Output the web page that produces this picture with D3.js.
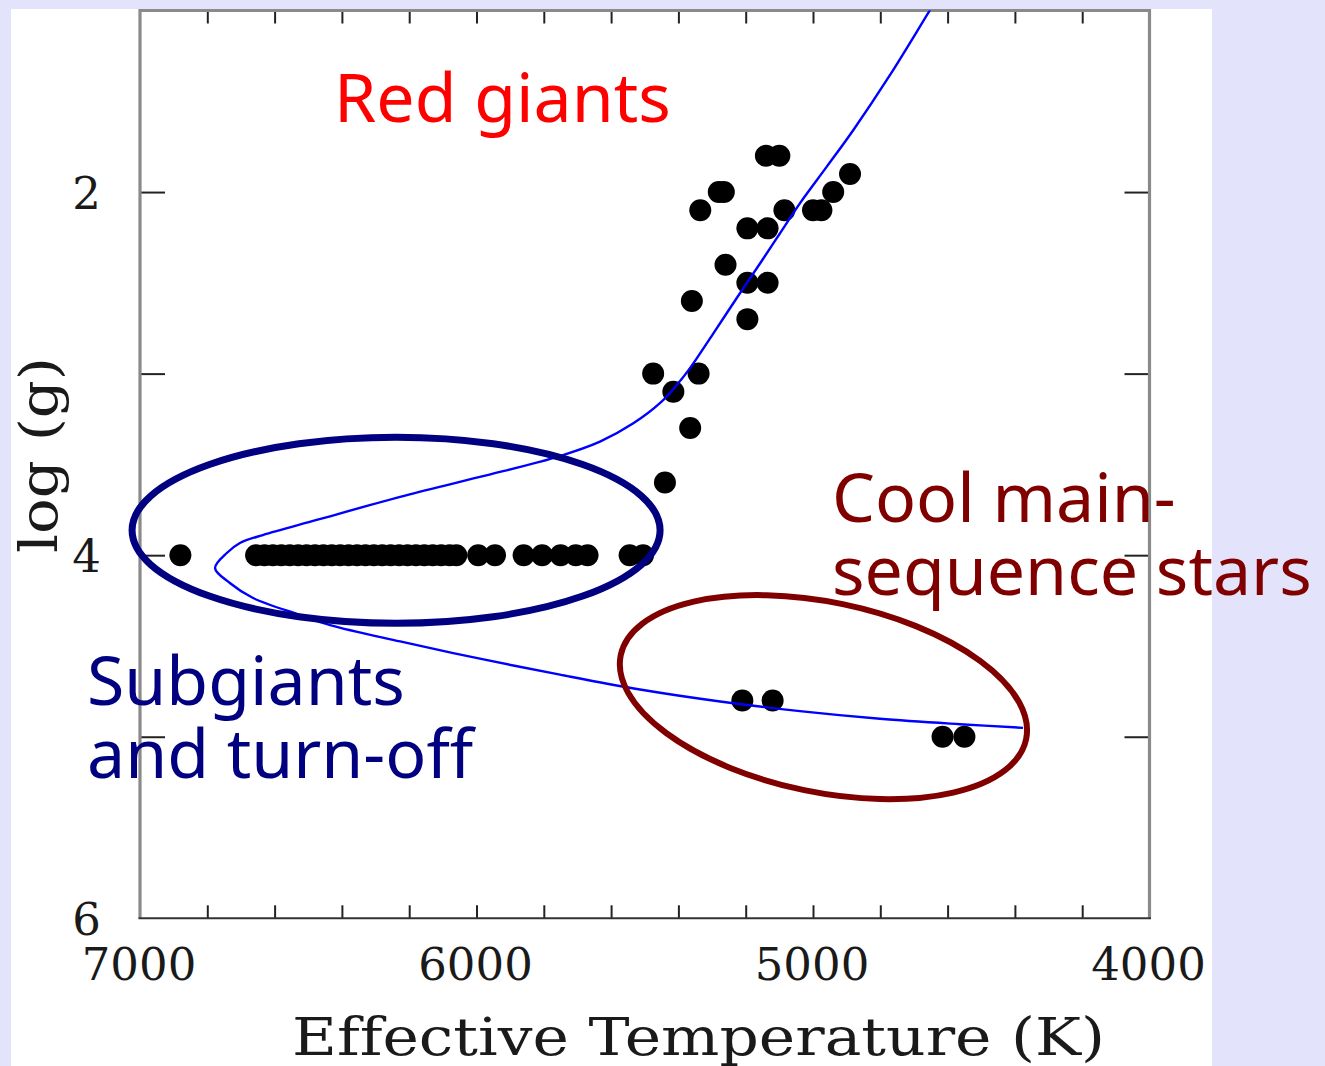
<!DOCTYPE html>
<html>
<head>
<meta charset="utf-8">
<script src="https://cdn.jsdelivr.net/npm/d3@7/dist/d3.min.js"></script>
<style>
  html, body { margin: 0; padding: 0; background: #e3e3fb; }
  svg { display: block; }
  text { font-variant-ligatures: none; font-feature-settings: "liga" 0; }
</style>
</head>
<body>
<svg id="chart" width="1325" height="1066"></svg>
<script>
// Effective temperature ticks (K) and surface gravity ticks
const tempLabels = [7000, 6000, 5000, 4000];
const tempTicks = [6800, 6600, 6400, 6200, 6000, 5800, 5600, 5400, 5200, 5000, 4800, 4600, 4400, 4200];
const loggTicks = [2, 3, 4, 5];
const loggLabels = [2, 4, 6];

// Subgiants and turn-off stars, all at log g = 4.0
const subgiantTeff = [
  6880,
  6655, 6630, 6605, 6580, 6555, 6530, 6505, 6480, 6455, 6430, 6405, 6380,
  6355, 6330, 6305, 6280, 6255, 6230, 6205, 6180, 6155, 6130, 6105, 6080,
  6060, 5995, 5945,
  5860, 5805, 5750, 5705, 5670,
  5545, 5505
];
const subgiantLogg = subgiantTeff.map(() => 4.0);

// Red giant branch stars
const giantTeff = [5140, 5100, 4890, 4940, 5280, 5265, 5335, 5085, 5000, 4975, 5195, 5135, 5260,
                   5195, 5135, 5360, 5195, 5475, 5340, 5415, 5365, 5440];
const giantLogg = [1.8, 1.8, 1.9, 2.0, 2.0, 2.0, 2.1, 2.1, 2.1, 2.1, 2.2, 2.2, 2.4,
                   2.5, 2.5, 2.6, 2.7, 3.0, 3.0, 3.1, 3.3, 3.6];

// Cool main-sequence stars
const dwarfTeff = [5210, 5120, 4615, 4550];
const dwarfLogg = [4.8, 4.8, 5.0, 5.0];

// Isochrone track, from the upper giant branch down through the turn-off to the dwarfs
const isoTeff = [
  4593, 4652, 4771, 4880, 4959, 5039, 5098, 5157, 5227, 5296, 5366, 5405, 5455, 5534,
  5633, 5752, 5990, 6227, 6475, 6635, 6703, 6742, 6777, 6733, 6664, 6525,
  6435, 6227, 5990, 5752, 5514, 5276, 5039, 4801, 4563, 4376
];
const isoLogg = [
  0.821, 0.997, 1.355, 1.658, 1.860, 2.062, 2.227, 2.392, 2.585, 2.778, 2.971, 3.063, 3.163, 3.274,
  3.375, 3.454, 3.569, 3.679, 3.806, 3.889, 3.933, 3.988, 4.071, 4.153, 4.236, 4.329,
  4.385, 4.475, 4.570, 4.658, 4.740, 4.806, 4.859, 4.901, 4.931, 4.951
];

const svg = d3.select("#chart");

// white page panel
svg.append("rect").attr("x", 11).attr("y", 9).attr("width", 1201).attr("height", 1057).attr("fill", "#ffffff");

const x = d3.scaleLinear().domain([7000, 4000]).range([140, 1149.5]);
const y = d3.scaleLinear().domain([1, 6]).range([10.5, 918.3]);

const plotLeft = x.range()[0], plotRight = x.range()[1];
const plotTop = y.range()[0], plotBottom = y.range()[1];

svg.append("defs").append("clipPath").attr("id", "plotClip")
  .append("rect").attr("x", plotLeft).attr("y", plotTop)
  .attr("width", plotRight - plotLeft).attr("height", plotBottom - plotTop);

// ticks on all four sides
const tickCol = "#222";
const xb = d3.axisBottom(x).tickValues(tempTicks).tickSizeInner(-13).tickSizeOuter(0).tickFormat("");
const xt = d3.axisTop(x).tickValues(tempTicks).tickSizeInner(-13).tickSizeOuter(0).tickFormat("");
const yl = d3.axisLeft(y).tickValues(loggTicks).tickSizeInner(-25).tickSizeOuter(0).tickFormat("");
const yr = d3.axisRight(y).tickValues(loggTicks).tickSizeInner(-25).tickSizeOuter(0).tickFormat("");

function styleAxis(g) {
  g.select(".domain").remove();
  g.selectAll(".tick line").attr("stroke", tickCol).attr("stroke-width", 2);
}
svg.append("g").attr("transform", `translate(0,${plotBottom})`).call(xb).call(styleAxis);
svg.append("g").attr("transform", `translate(0,${plotTop})`).call(xt).call(styleAxis);
svg.append("g").attr("transform", `translate(${plotLeft},0)`).call(yl).call(styleAxis);
svg.append("g").attr("transform", `translate(${plotRight},0)`).call(yr).call(styleAxis);

// frame
svg.append("path")
  .attr("d", `M${plotLeft},${plotBottom} L${plotLeft},${plotTop} L${plotRight},${plotTop} L${plotRight},${plotBottom}`)
  .attr("fill", "none").attr("stroke", "#8a8a8a").attr("stroke-width", 3.2);
svg.append("line").attr("x1", plotLeft - 1.5).attr("x2", plotRight + 1.5)
  .attr("y1", plotBottom).attr("y2", plotBottom)
  .attr("stroke", "#333").attr("stroke-width", 2);

// tick labels
const serif = "DejaVu Serif, Liberation Serif, serif";
svg.append("g").selectAll("text").data(tempLabels).join("text")
  .attr("x", d => x(d) - 1).attr("y", 980)
  .attr("text-anchor", "middle").attr("font-family", serif).attr("font-size", 45)
  .attr("fill", "#1a1a1a").text(d => d);
svg.append("g").selectAll("text").data(loggLabels).join("text")
  .attr("x", 101).attr("y", d => y(d) + 17)
  .attr("text-anchor", "end").attr("font-family", serif).attr("font-size", 45)
  .attr("fill", "#1a1a1a").text(d => d);

// axis titles
svg.append("text").attr("x", 292).attr("y", 1055)
  .attr("font-family", serif).attr("font-size", 52).attr("fill", "#1a1a1a")
  .attr("textLength", 813).attr("lengthAdjust", "spacingAndGlyphs")
  .text("Effective Temperature (K)");
svg.append("text").attr("transform", "translate(57,553) rotate(-90)")
  .attr("font-family", serif).attr("font-size", 52).attr("fill", "#1a1a1a")
  .attr("textLength", 196).attr("lengthAdjust", "spacingAndGlyphs")
  .text("log (g)");

// stars
const stars = [
  ...subgiantTeff.map((t, i) => [t, subgiantLogg[i]]),
  ...giantTeff.map((t, i) => [t, giantLogg[i]]),
  ...dwarfTeff.map((t, i) => [t, dwarfLogg[i]])
];
const plot = svg.append("g").attr("clip-path", "url(#plotClip)");
plot.append("g").selectAll("circle").data(stars).join("circle")
  .attr("cx", d => x(d[0])).attr("cy", d => y(d[1])).attr("r", 11).attr("fill", "#000");

// isochrone
const line = d3.line().x(d => x(d[0])).y(d => y(d[1])).curve(d3.curveCatmullRom.alpha(0.5));
plot.append("path").datum(isoTeff.map((t, i) => [t, isoLogg[i]]))
  .attr("d", line).attr("fill", "none").attr("stroke", "#0000ff").attr("stroke-width", 2.4);

// group outlines (centres in temperature / log g)
const rings = [
  { teff: 6239, logg: 3.863, rx: 264, ry: 93, angle: 0, color: "#000080", width: 7 },
  { teff: 4969, logg: 4.782, rx: 207, ry: 95, angle: 11.7, color: "#800000", width: 6 }
];
svg.append("g").selectAll("ellipse").data(rings).join("ellipse")
  .attr("transform", d => `translate(${x(d.teff)},${y(d.logg)}) rotate(${d.angle})`)
  .attr("rx", d => d.rx).attr("ry", d => d.ry)
  .attr("fill", "none").attr("stroke", d => d.color).attr("stroke-width", d => d.width);

// group labels
const sans = "Noto Sans, Open Sans, sans-serif";
const notes = [
  { lines: ["Red giants"], x: 334, y: 122, color: "#ff0000" },
  { lines: ["Cool main-", "sequence stars"], x: 832, y: 522, color: "#800000" },
  { lines: ["Subgiants", "and turn-off"], x: 87, y: 705, color: "#000080" }
];
notes.forEach(n => {
  const t = svg.append("text").attr("font-family", sans).attr("font-size", 68).attr("fill", n.color);
  n.lines.forEach((s, i) => t.append("tspan").attr("x", n.x).attr("y", n.y + i * 73).text(s));
});
</script>
</body>
</html>
